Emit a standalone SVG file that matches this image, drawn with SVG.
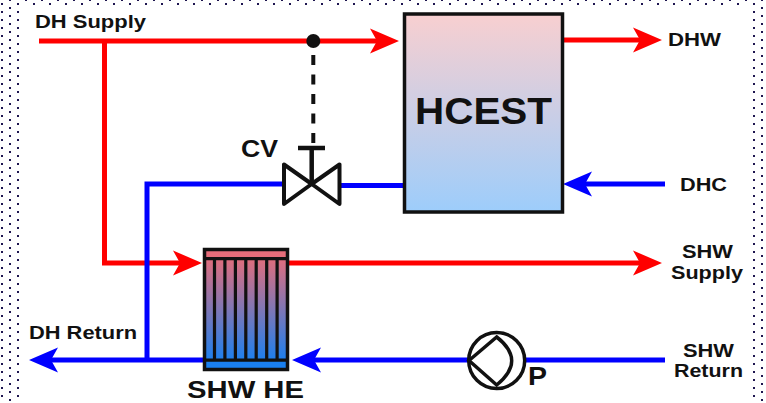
<svg xmlns="http://www.w3.org/2000/svg" width="766" height="403" viewBox="0 0 766 403">
<defs>
<linearGradient id="tank" x1="0" y1="0" x2="0" y2="1"><stop offset="0" stop-color="#f8cfd0"/><stop offset="1" stop-color="#9dcdfb"/></linearGradient>
<linearGradient id="he" gradientUnits="userSpaceOnUse" x1="0" y1="256" x2="0" y2="362"><stop offset="0" stop-color="#e66d7a"/><stop offset="1" stop-color="#1a80f0"/></linearGradient>
<pattern id="dots" width="16" height="8" patternUnits="userSpaceOnUse"><rect x="1" y="3" width="2" height="2" fill="#1e1650"/><rect x="9" y="0" width="2" height="1" fill="#1e1650"/><rect x="9" y="7" width="2" height="1" fill="#1e1650"/></pattern>
<marker id="ar" markerUnits="userSpaceOnUse" markerWidth="30" markerHeight="26" refX="10" refY="13" orient="auto"><path d="M0 0.500L29 13L0 25.500L7 13Z" fill="#ff0000"/></marker>
<marker id="ab" markerUnits="userSpaceOnUse" markerWidth="30" markerHeight="26" refX="10" refY="13" orient="auto"><path d="M0 0.500L29 13L0 25.500L7 13Z" fill="#0000ff"/></marker>
</defs>
<style>
text{font-family:"Liberation Sans",Arial,sans-serif;font-weight:bold;fill:#111}
.lbl{font-size:18px}
.r{fill:none;stroke:#ff0000;stroke-width:5}
.b{fill:none;stroke:#0000ff;stroke-width:5}
.k{fill:none;stroke:#111;stroke-width:3.200}
</style>
<rect width="766" height="403" fill="url(#dots)"/>
<rect x="21" y="6" width="730" height="397" fill="#fff"/>
<g id="connectors">
<path class="r" d="M39 41H380" marker-end="url(#ar)"/>
<path class="r" d="M104.500 41V263H183" marker-end="url(#ar)"/>
<path class="r" d="M563 40H643" marker-end="url(#ar)"/>
<path class="r" d="M288 263H643" marker-end="url(#ar)"/>
<path class="b" d="M665 184H582" marker-end="url(#ab)"/>
<path class="b" d="M665 360H311" marker-end="url(#ab)"/>
<path class="b" d="M204 360H48" marker-end="url(#ab)"/>
<path class="b" d="M147 360V184H283"/>
<path class="b" d="M340 185.500H404"/>
<path d="M313.300 55V144" fill="none" stroke="#111" stroke-width="4" stroke-dasharray="10 9.500"/>
<circle cx="313.300" cy="41" r="7" fill="#111"/>
</g>
<g id="hcest">
<rect x="404.500" y="14" width="158" height="198" fill="url(#tank)" stroke="#111" stroke-width="3.500"/>
<text x="415" y="124" font-size="36" textLength="137" lengthAdjust="spacingAndGlyphs">HCEST</text>
</g>
<g id="cv">
<path d="M311.700 184L284 164.500V204ZM311.700 184L339.500 164.500V204Z" fill="#fff" stroke="#111" stroke-width="4" stroke-linejoin="round"/>
<path d="M311.700 184V148M298 148H325" fill="none" stroke="#111" stroke-width="4.500"/>
<text x="241" y="157" font-size="23" textLength="37" lengthAdjust="spacingAndGlyphs">CV</text>
</g>
<g id="shw-he">
<rect x="204.500" y="249.500" width="83" height="120" fill="url(#he)" stroke="#111" stroke-width="3.500"/>
<path d="M204 258.700H288M204 360.200H288M214.500 259V360M224.900 259V360M235.400 259V360M245.800 259V360M256.200 259V360M266.700 259V360M277.100 259V360" class="k"/>
<text x="187" y="398" font-size="23" textLength="117" lengthAdjust="spacingAndGlyphs">SHW HE</text>
</g>
<g id="pump">
<circle cx="496.700" cy="360.500" r="28" fill="#fff" stroke="#111" stroke-width="3.500"/>
<path d="M469 360.500L496.700 337Q526.700 360.500 496.700 385Z" fill="none" stroke="#111" stroke-width="3.500"/>
<text x="528" y="385" font-size="25" textLength="19" lengthAdjust="spacingAndGlyphs">P</text>
</g>
<g id="labels">
<text class="lbl" x="35" y="28" textLength="111" lengthAdjust="spacingAndGlyphs">DH Supply</text>
<text class="lbl" x="29" y="339" textLength="108" lengthAdjust="spacingAndGlyphs">DH Return</text>
<text class="lbl" x="668" y="46" textLength="53" lengthAdjust="spacingAndGlyphs">DHW</text>
<text class="lbl" x="680" y="191" textLength="47" lengthAdjust="spacingAndGlyphs">DHC</text>
<text class="lbl" x="682" y="258" textLength="51" lengthAdjust="spacingAndGlyphs">SHW</text>
<text class="lbl" x="671" y="279" textLength="72" lengthAdjust="spacingAndGlyphs">Supply</text>
<text class="lbl" x="683" y="357" textLength="51" lengthAdjust="spacingAndGlyphs">SHW</text>
<text class="lbl" x="674" y="377" textLength="69" lengthAdjust="spacingAndGlyphs">Return</text>
</g>
</svg>
